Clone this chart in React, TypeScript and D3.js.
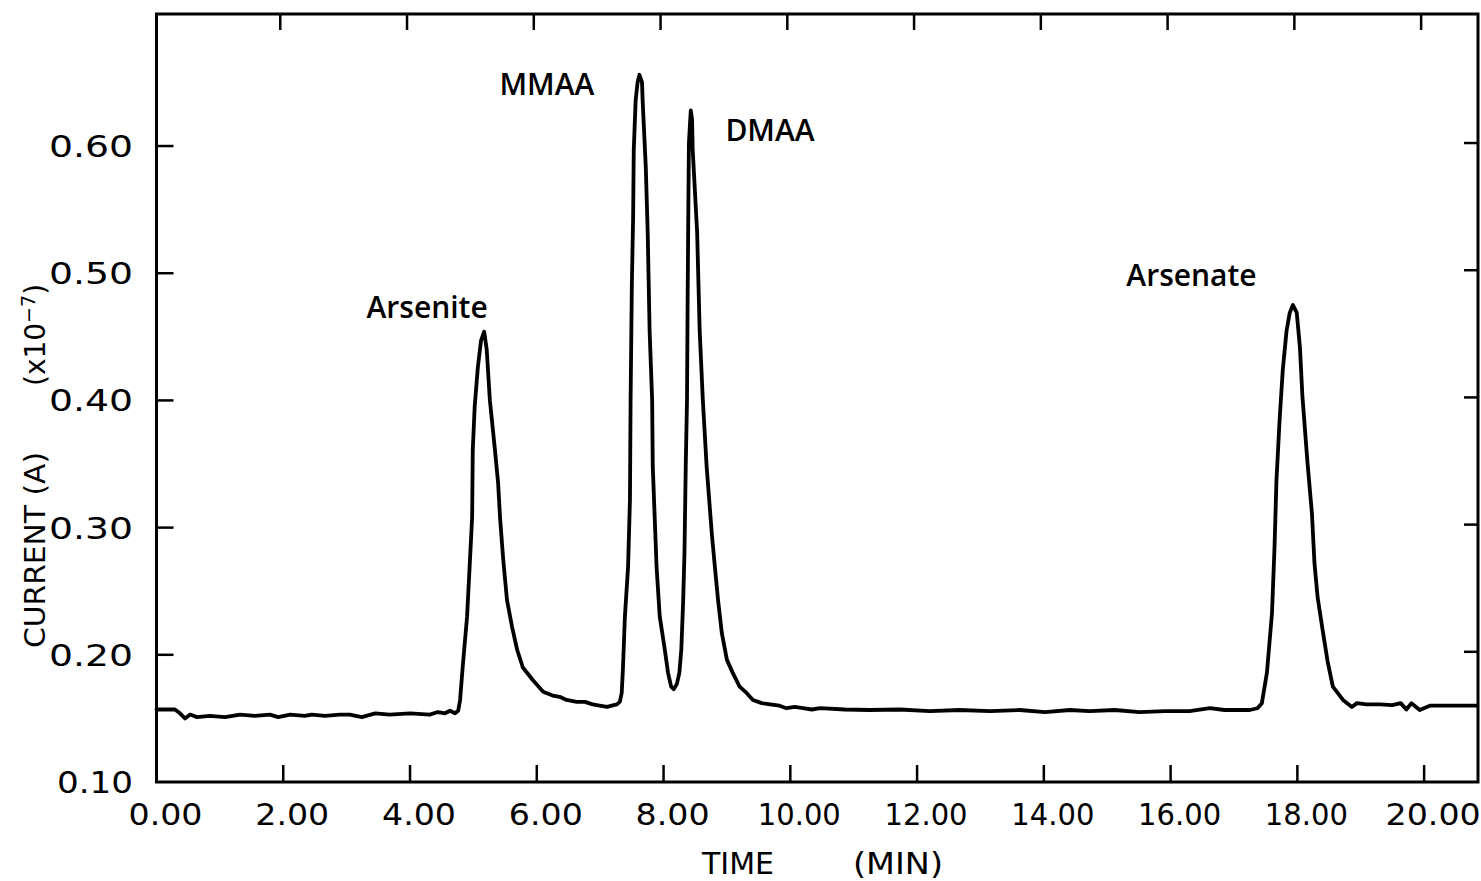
import React from "react";
import * as d3 from "d3";

// Chromatogram trace: retention time (min) and detector current (x1e-7 A)
const timeMin: number[] = [
  0.0, 0.29, 0.37, 0.45, 0.53, 0.64, 0.84, 1.08, 1.32, 1.55, 1.79, 1.92, 2.11, 2.34, 2.45, 2.66,
  2.89, 3.05, 3.24, 3.45, 3.68, 4.0, 4.31, 4.44, 4.55, 4.63, 4.71, 4.76, 4.79, 4.83, 4.9, 4.94,
  4.98, 4.99, 5.02, 5.07, 5.12, 5.17, 5.21, 5.26, 5.34, 5.39, 5.42, 5.47, 5.53, 5.61, 5.69, 5.78,
  5.94, 6.1, 6.25, 6.36, 6.47, 6.63, 6.76, 6.88, 6.99, 7.11, 7.26, 7.31, 7.34, 7.36, 7.39, 7.44,
  7.47, 7.48, 7.5, 7.52, 7.53, 7.56, 7.59, 7.62, 7.66, 7.67, 7.72, 7.75, 7.78, 7.82, 7.83, 7.89,
  7.94, 8.02, 8.07, 8.12, 8.16, 8.21, 8.25, 8.28, 8.31, 8.33, 8.35, 8.37, 8.38, 8.39, 8.4, 8.42,
  8.43, 8.45, 8.46, 8.53, 8.57, 8.62, 8.68, 8.76, 8.81, 8.86, 8.92, 9.0, 9.09, 9.2, 9.31, 9.41,
  9.55, 9.68, 9.83, 9.94, 10.07, 10.2, 10.34, 10.47, 10.86, 11.25, 11.73, 12.2, 12.67, 13.15,
  13.62, 14.02, 14.41, 14.72, 15.12, 15.51, 15.91, 16.3, 16.62, 16.85, 17.25, 17.37, 17.44, 17.52,
  17.6, 17.64, 17.67, 17.72, 17.77, 17.83, 17.88, 17.93, 17.99, 18.04, 18.08, 18.16, 18.23, 18.27,
  18.32, 18.4, 18.48, 18.56, 18.72, 18.86, 18.94, 19.09, 19.3, 19.5, 19.63, 19.72, 19.8, 19.93,
  20.09, 20.4, 20.84,
];

const currentE7: number[] = [
  0.157, 0.157, 0.154, 0.15, 0.153, 0.151, 0.152, 0.151, 0.153, 0.152, 0.153, 0.151, 0.153, 0.152,
  0.153, 0.152, 0.153, 0.153, 0.151, 0.154, 0.153, 0.154, 0.153, 0.155, 0.154, 0.156, 0.154, 0.156,
  0.1645, 0.19, 0.23, 0.269, 0.308, 0.361, 0.395, 0.426, 0.447, 0.454, 0.44, 0.4, 0.361, 0.335,
  0.308, 0.275, 0.243, 0.222, 0.204, 0.19, 0.18, 0.171, 0.168, 0.167, 0.1645, 0.163, 0.163, 0.161,
  0.16, 0.159, 0.161, 0.163, 0.17, 0.19, 0.23, 0.269, 0.322, 0.4, 0.492, 0.544, 0.597, 0.636, 0.65,
  0.656, 0.65, 0.636, 0.583, 0.532, 0.455, 0.4, 0.348, 0.269, 0.23, 0.204, 0.186, 0.175, 0.173,
  0.177, 0.186, 0.204, 0.243, 0.28, 0.348, 0.4, 0.479, 0.544, 0.602, 0.62, 0.628, 0.621, 0.597,
  0.532, 0.455, 0.4, 0.348, 0.296, 0.269, 0.243, 0.217, 0.196, 0.186, 0.175, 0.17, 0.1645, 0.162,
  0.161, 0.16, 0.158, 0.159, 0.158, 0.157, 0.158, 0.157, 0.1566, 0.157, 0.1558, 0.1566, 0.1558,
  0.1566, 0.155, 0.1566, 0.1558, 0.1566, 0.155, 0.1558, 0.1558, 0.158, 0.1566, 0.1566, 0.158,
  0.162, 0.186, 0.233, 0.285, 0.337, 0.385, 0.424, 0.455, 0.469, 0.475, 0.469, 0.442, 0.403, 0.351,
  0.311, 0.272, 0.245, 0.219, 0.194, 0.175, 0.1645, 0.159, 0.162, 0.161, 0.161, 0.1605, 0.162,
  0.157, 0.162, 0.1566, 0.16, 0.16, 0.16,
];

const xTicks: number[] = [0, 2, 4, 6, 8, 10, 12, 14, 16, 18, 20];
const xTickLabels: string[] = ["0.00", "2.00", "4.00", "6.00", "8.00", "10.00", "12.00", "14.00", "16.00", "18.00", "20.00"];
const yTicks: number[] = [0.1, 0.2, 0.3, 0.4, 0.5, 0.6];
const yTickLabels: string[] = ["0.10", "0.20", "0.30", "0.40", "0.50", "0.60"];

// Peak names with the (time, current) point each annotation sits at
const peakNames: string[] = ["Arsenite", "MMAA", "DMAA", "Arsenate"];
const peakLabelTime: number[] = [4.27, 6.16, 9.68, 16.33];
const peakLabelCurrent: number[] = [0.465, 0.64, 0.604, 0.49];

const W = 1481;
const H = 881;
const left = 156.5;
const right = 1478;
const top = 14;
const bottom = 782;

const FONT = "'DejaVu Sans', 'Liberation Sans', sans-serif";

// approximate rendered widths of the stencil-style numerals
function numWidth(s: string, digit: number, one: number, dot: number): number {
  let w = 0;
  for (const c of s) w += c === "." ? dot : c === "1" ? one : digit;
  return w;
}

export default function App() {
  const x = d3.scaleLinear().domain([0, 20.85]).range([left, right]);
  const y = d3.scaleLinear().domain([0.1, 0.7038]).range([bottom, top]);

  const points: [number, number][] = timeMin.map((t, i) => [t, currentE7[i]]);
  const line = d3
    .line<[number, number]>()
    .x((d) => x(d[0]))
    .y((d) => y(d[1]))
    .curve(d3.curveLinear);

  const innerTicksX = xTicks.filter((t) => t > 0);
  const innerTicksY = yTicks.filter((v) => v > 0.1);

  return (
    <svg
      width={W}
      height={H}
      viewBox={`0 0 ${W} ${H}`}
      style={{ position: "absolute", left: 0, top: 0, display: "block", background: "#fff" }}
    >
      <rect x={0} y={0} width={W} height={H} fill="#fff" />

      {/* frame */}
      <rect
        x={left}
        y={top}
        width={right - left}
        height={bottom - top}
        fill="none"
        stroke="#000"
        strokeWidth={3}
      />

      {/* inward ticks on all four sides */}
      {innerTicksX.map((t) => (
        <g key={`xt${t}`} stroke="#000" strokeWidth={2.5}>
          <line x1={x(t)} x2={x(t)} y1={bottom} y2={bottom - 17} />
          <line x1={x(t) - 3} x2={x(t) - 3} y1={top} y2={top + 16} />
        </g>
      ))}
      {innerTicksY.map((v) => (
        <g key={`yt${v}`} stroke="#000" strokeWidth={2.5}>
          <line x1={left} x2={left + 17} y1={y(v)} y2={y(v)} />
          <line x1={right} x2={right - 14} y1={y(v) - 3} y2={y(v) - 3} />
        </g>
      ))}

      {/* tick labels */}
      {xTicks.map((t, i) => {
        const s = xTickLabels[i];
        return (
          <text
            key={`xl${t}`}
            x={x(t) + 9}
            y={825}
            textAnchor="middle"
            fontFamily={FONT}
            fontSize={30}
            textLength={numWidth(s, 21, 9, 11)}
            lengthAdjust="spacingAndGlyphs"
          >
            {s}
          </text>
        );
      })}
      {yTicks.map((v, i) => {
        const s = yTickLabels[i];
        return (
          <text
            key={`yl${v}`}
            x={133}
            y={y(v) + 11}
            textAnchor="end"
            fontFamily={FONT}
            fontSize={30}
            textLength={numWidth(s, 24, 16, 12)}
            lengthAdjust="spacingAndGlyphs"
          >
            {s}
          </text>
        );
      })}

      {/* axis titles */}
      <text x={702} y={874} fontFamily={FONT} fontSize={30} textLength={72} lengthAdjust="spacingAndGlyphs">
        TIME
      </text>
      <text x={853} y={874} fontFamily={FONT} fontSize={30} textLength={90} lengthAdjust="spacingAndGlyphs">
        (MIN)
      </text>
      <g transform="translate(45,0) rotate(-90)">
        <text x={-648} y={0} fontFamily={FONT} fontSize={28} textLength={196} lengthAdjust="spacingAndGlyphs">
          CURRENT (A)
        </text>
        <text x={-386} y={0} fontFamily={FONT} fontSize={28}>
          (x10
          <tspan dy={-10} fontSize={19}>
            −7
          </tspan>
          <tspan dy={10}>)</tspan>
        </text>
      </g>

      {/* chromatogram trace */}
      <path
        d={line(points) ?? ""}
        fill="none"
        stroke="#000"
        strokeWidth={3.8}
        strokeLinejoin="round"
        strokeLinecap="round"
      />

      {/* peak annotations */}
      {peakNames.map((name, i) => (
        <text
          key={name}
          x={x(peakLabelTime[i])}
          y={y(peakLabelCurrent[i])}
          textAnchor="middle"
          fontFamily="'Open Sans', 'DejaVu Sans', sans-serif"
          fontWeight={600}
          fontSize={30}
        >
          {name}
        </text>
      ))}
    </svg>
  );
}
